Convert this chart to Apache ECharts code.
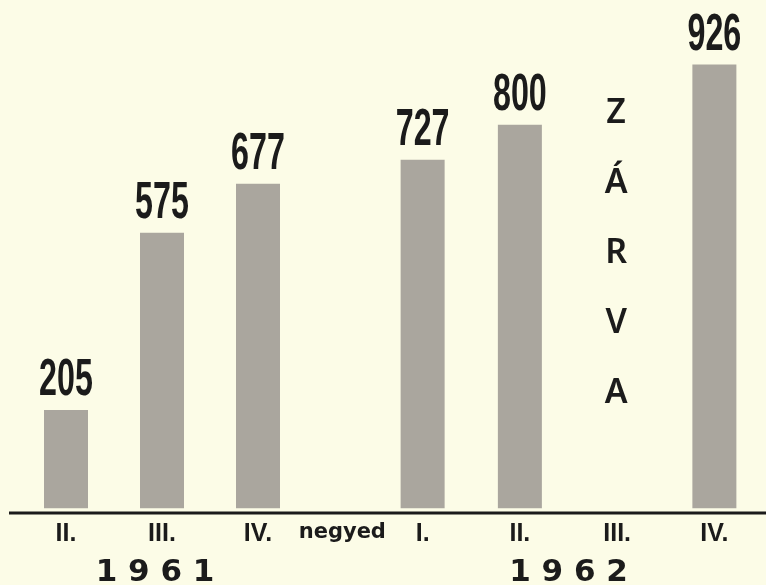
<!DOCTYPE html>
<html>
<head>
<meta charset="utf-8">
<script src="https://cdn.jsdelivr.net/npm/echarts@6/dist/echarts.min.js"></script>
<style>
html,body{margin:0;padding:0;background:#fcfce7;}
#c{width:766px;height:585px;}
</style>
</head>
<body>
<div id="c"></div>
<script>
// ---- data ----
const quarters1961 = ['II.', 'III.', 'IV.'];
const values1961 = [205, 575, 677];
const quarters1962 = ['I.', 'II.', 'III.', 'IV.'];
const values1962 = [727, 800, null, 926];
const years = ['1961', '1962'];
const quarterWord = 'negyed';
const closedText = 'ZÁRVA';
const closedQuarterIndex = 2;

const BAR = '#aaa69e';
const INK = '#1b1b1b';
const BG = '#fcfce7';

function spaced(s){ return s.split('').join(' '); }

function labelSeries(idx, values){
  return {
    type: 'custom',
    xAxisIndex: idx, yAxisIndex: idx,
    data: values.map((v,i)=> v == null ? null : [i, v]).filter(d=>d),
    renderItem: function(params, api){
      const p = api.coord([api.value(0), api.value(1)]);
      return {
        type: 'text',
        x: p[0], y: p[1] - 3,
        scaleX: 0.62, scaleY: 1,
        style: {
          text: String(api.value(1)),
          font: 'bold 52px "Liberation Sans", Arial, sans-serif',
          fill: INK,
          align: 'center',
          verticalAlign: 'bottom'
        }
      };
    },
    silent: true, z: 5
  };
}

const axisLabelStyle = {
  margin: 9, fontFamily: '"Liberation Sans", Arial, sans-serif',
  fontWeight: 'bold', fontSize: 25, color: INK
};
const yearStyle = {
  fontFamily: '"DejaVu Sans", sans-serif', fontWeight: 'bold',
  fontSize: 31, color: INK
};

const chart = echarts.init(document.getElementById('c'), null, {renderer: 'canvas'});
chart.setOption({
  backgroundColor: BG,
  animation: false,
  grid: [
    {left: 18, width: 288, top: 29, bottom: 72, outerBoundsMode: 'none', containLabel: false},
    {left: 374, width: 389, top: 29, bottom: 72, outerBoundsMode: 'none', containLabel: false}
  ],
  xAxis: [
    {gridIndex: 0, type: 'category', data: quarters1961,
     axisLine: {show: false}, axisTick: {show: false}, splitLine: {show: false},
     axisLabel: axisLabelStyle,
     name: spaced(years[0]), nameLocation: 'middle', nameGap: 44,
     nameTextStyle: Object.assign({padding: [0, 14, 0, 0]}, yearStyle)},
    {gridIndex: 1, type: 'category', data: quarters1962,
     axisLine: {show: false}, axisTick: {show: false}, splitLine: {show: false},
     axisLabel: axisLabelStyle,
     name: spaced(years[1]), nameLocation: 'middle', nameGap: 44,
     nameTextStyle: yearStyle}
  ],
  yAxis: [
    {gridIndex: 0, type: 'value', min: -10, max: 1000, show: false},
    {gridIndex: 1, type: 'value', min: -10, max: 1000, show: false}
  ],
  series: [
    {type: 'bar', xAxisIndex: 0, yAxisIndex: 0, data: values1961, barWidth: 44,
     itemStyle: {color: BAR}},
    {type: 'bar', xAxisIndex: 1, yAxisIndex: 1, data: values1962, barWidth: 44,
     itemStyle: {color: BAR}},
    labelSeries(0, values1961),
    labelSeries(1, values1962)
  ]
});

// annotations positioned from the axes
const baseY = chart.convertToPixel({yAxisIndex: 0}, -10);
const lastX1961 = chart.convertToPixel({xAxisIndex: 0}, quarters1961[quarters1961.length-1]);
const firstX1962 = chart.convertToPixel({xAxisIndex: 1}, quarters1962[0]);
const closedX = chart.convertToPixel({xAxisIndex: 1}, quarters1962[closedQuarterIndex]);

chart.setOption({
  graphic: [
    {type: 'line', shape: {x1: 9, y1: baseY, x2: 766, y2: baseY},
     style: {stroke: INK, lineWidth: 3}, z: 10},
    {type: 'text', x: (lastX1961 + firstX1962)/2 + 2, y: baseY + 20,
     style: {text: quarterWord, font: 'bold 21px "DejaVu Sans", sans-serif',
             fill: INK, align: 'center', verticalAlign: 'middle'}},
    {type: 'text', x: closedX - 1, y: 253,
     style: {text: closedText.split('').join('\n'), lineHeight: 70,
             font: '600 34px "Noto Sans", sans-serif', fill: INK,
             align: 'center', verticalAlign: 'middle'}}
  ]
});
</script>
</body>
</html>
